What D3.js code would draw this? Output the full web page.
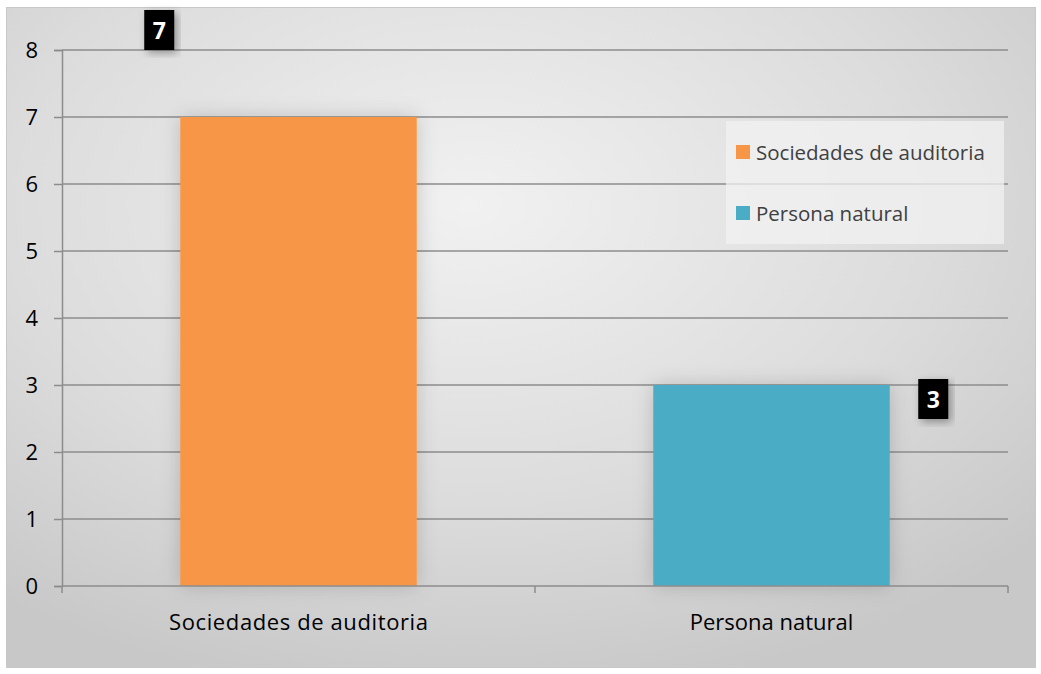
<!DOCTYPE html>
<html>
<head>
<meta charset="utf-8">
<title>Sociedades de auditoria vs Persona natural</title>
<script src="https://d3js.org/d3.v7.min.js"></script>
<style>
  body { margin: 0; background: #ffffff; }
  svg { display: block; font-family: "Open Sans", "Noto Sans", sans-serif; }
  .axis path, .axis line { stroke: #8c8c8c; stroke-width: 1.5; }
</style>
</head>
<body>
<svg id="chart"></svg>
<script>
var categories = ["Sociedades de auditoria", "Persona natural"];
var values = [7, 3];
var colors = ["#F79646", "#4BACC6"];
var yTicks = [0, 1, 2, 3, 4, 5, 6, 7, 8];

var W = 1041, H = 674,
    margin = {top: 50, right: 33, bottom: 88, left: 62},
    width = W - margin.left - margin.right,
    height = H - margin.top - margin.bottom;

var svg = d3.select("#chart").attr("width", W).attr("height", H);
var defs = svg.append("defs");

var bg = defs.append("radialGradient").attr("id", "bg")
    .attr("cx", "45%").attr("cy", "30%").attr("r", "75%");
bg.append("stop").attr("offset", "0%").attr("stop-color", "#f1f1f1");
bg.append("stop").attr("offset", "60%").attr("stop-color", "#dcdcdc");
bg.append("stop").attr("offset", "100%").attr("stop-color", "#c8c8c8");

var sh = defs.append("filter").attr("id", "shadow")
    .attr("x", "-20%").attr("y", "-20%").attr("width", "140%").attr("height", "140%");
sh.append("feDropShadow").attr("dx", 3).attr("dy", 3).attr("stdDeviation", 4)
    .attr("flood-color", "#000").attr("flood-opacity", 0.35);

var glow = defs.append("filter").attr("id", "glow")
    .attr("x", "-20%").attr("y", "-10%").attr("width", "140%").attr("height", "120%");
glow.append("feDropShadow").attr("dx", 0).attr("dy", 0).attr("stdDeviation", 10)
    .attr("flood-color", "#000").attr("flood-opacity", 0.18);

svg.append("rect").attr("x", 6.5).attr("y", 7.5).attr("width", W - 12).attr("height", H - 14)
    .attr("fill", "url(#bg)").attr("stroke", "#c8c8c8").attr("stroke-width", 1);

var x = d3.scaleBand().domain(categories).range([0, width])
    .paddingInner(0.5).paddingOuter(0.25);
var y = d3.scaleLinear().domain([0, 8]).range([height, 0]);

var g = svg.append("g").attr("transform", "translate(" + margin.left + "," + margin.top + ")");

// grid
g.append("g").selectAll("line").data(yTicks.slice(1)).enter().append("line")
    .attr("x1", 0).attr("x2", width)
    .attr("y1", function(d) { return y(d); }).attr("y2", function(d) { return y(d); })
    .attr("stroke", "#8c8c8c").attr("stroke-width", 1.5);

// bars
g.selectAll(".bar").data(values).enter().append("rect")
    .attr("class", "bar")
    .attr("x", function(d, i) { return x(categories[i]); })
    .attr("y", function(d) { return y(d); })
    .attr("width", x.bandwidth())
    .attr("height", function(d) { return height - y(d); })
    .attr("fill", function(d, i) { return colors[i]; })
    .attr("filter", "url(#glow)");

// y axis
var yAxis = g.append("g").attr("class", "axis")
    .call(d3.axisLeft(y).tickValues(yTicks).tickSize(8).tickPadding(16).tickFormat(d3.format("d")));
yAxis.attr("font-family", null).attr("font-size", 22);
yAxis.selectAll("text").attr("fill", "#000");

// x axis with ticks at category boundaries
var xAxis = g.append("g").attr("class", "axis").attr("transform", "translate(0," + height + ")");
xAxis.append("line").attr("x1", 0).attr("x2", width).attr("stroke", "#8c8c8c").attr("stroke-width", 1.5);
var bounds = [0].concat(categories.map(function(c) { return x(c) + x.bandwidth() + x.step() * 0.25; }));
xAxis.selectAll(".tb").data(bounds).enter().append("line")
    .attr("x1", function(d) { return d; }).attr("x2", function(d) { return d; })
    .attr("y1", 0).attr("y2", 7).attr("stroke", "#8c8c8c").attr("stroke-width", 1.5);
xAxis.selectAll(".cl").data(categories).enter().append("text")
    .attr("x", function(c) { return x(c) + x.bandwidth() / 2; })
    .attr("y", 44).attr("text-anchor", "middle")
    .attr("font-size", 22).attr("fill", "#000")
    .attr("textLength", function(c, i) { return i === 0 ? 259 : null; })
    .text(function(c) { return c; });

// data labels (manually placed in the original)
var labelPos = [
  {dx: -36, top: y(8) - 40},
  {dx: 265, top: y(3) - 6}
];
var lab = g.selectAll(".lab").data(values).enter().append("g")
    .attr("transform", function(d, i) {
      return "translate(" + (x(categories[i]) + labelPos[i].dx) + "," + labelPos[i].top + ")";
    });
lab.append("rect").attr("width", 30).attr("height", 40).attr("fill", "#000").attr("filter", "url(#shadow)");
lab.append("text").attr("x", 15).attr("y", 29).attr("text-anchor", "middle")
    .attr("fill", "#fff").attr("font-weight", "bold").attr("font-size", "23px")
    .text(function(d) { return d; });

// legend
var lg = svg.append("g").attr("transform", "translate(726,121)");
lg.append("rect").attr("width", 278).attr("height", 123).attr("fill", "#f2f2f2").attr("fill-opacity", 0.75);
var li = lg.selectAll(".li").data(categories).enter().append("g")
    .attr("transform", function(d, i) { return "translate(10," + (24 + i * 61) + ")"; });
li.append("rect").attr("width", 14).attr("height", 14).attr("fill", function(d, i) { return colors[i]; });
li.append("text").attr("x", 20).attr("y", 15)
    .attr("font-size", 20.5).attr("fill", "#404040")
    .text(function(d) { return d; });
</script>
</body>
</html>
